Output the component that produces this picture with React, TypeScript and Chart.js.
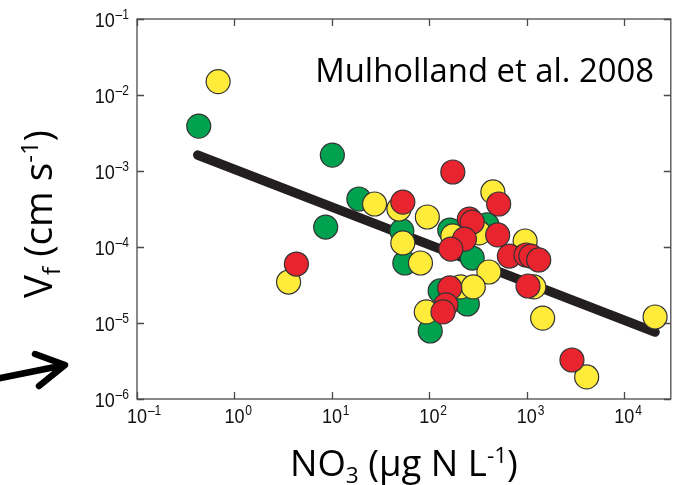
import React, { useEffect, useRef } from "react";
import { Chart, registerables } from "chart.js";

Chart.register(...registerables);

// ---- data (NO3 µg N/L, Vf cm/s) ----
const greenX = [0.43, 10.1, 18.9, 8.63, 52.2, 56, 162, 390, 275, 129, 245, 102];
const greenY = [3.9e-3, 1.62e-3, 4.28e-4, 1.83e-4, 1.63e-4, 6.16e-5, 1.67e-4, 1.95e-4, 7.16e-5, 2.64e-5, 1.78e-5, 7.85e-6];

const yellowX = [0.68, 3.59, 27.4, 48.7, 95.3, 53.4, 81, 174, 324, 448, 960, 408, 1180, 1452, 20700, 4110, 209, 282, 93];
const yellowY = [1.5e-2, 3.46e-5, 3.68e-4, 3.16e-4, 2.48e-4, 1.13e-4, 6.16e-5, 1.4e-4, 1.53e-4, 5.3e-4, 1.2e-4, 4.69e-5, 2.98e-5, 1.16e-5, 1.2e-5, 1.95e-6, 2.98e-5, 2.98e-5, 1.4e-5];

const redX = [4.32, 53.4, 174, 514, 257, 275, 229, 166, 502, 662, 982, 1100, 1324, 1028, 2904, 162, 148, 138];
const redY = [5.97e-5, 3.9e-4, 9.7e-4, 3.68e-4, 2.33e-4, 2.13e-4, 1.27e-4, 9.4e-5, 1.44e-4, 7.6e-5, 7.85e-5, 7.6e-5, 6.75e-5, 3.07e-5, 3.26e-6, 2.89e-5, 1.73e-5, 1.4e-5];

const fitX = [0.42, 20700];
const fitY = [1.62e-3, 7.6e-6];

const xTicks = [0.1, 1, 10, 100, 1000, 10000];
const xTickExps = ["–1", "0", "1", "2", "3", "4"];
const yTicks = [1e-1, 1e-2, 1e-3, 1e-4, 1e-5, 1e-6];
const yTickExps = ["–1", "–2", "–3", "–4", "–5", "–6"];

const annotationText = "Mulholland et al. 2008";

const zip = (xs: number[], ys: number[]) => xs.map((x, i) => ({ x, y: ys[i] }));

type Part = { t: string; k: "n" | "sub" | "sup" };

function richWidth(ctx: CanvasRenderingContext2D, parts: Part[], size: number, family: string) {
  let w = 0;
  for (const p of parts) {
    const s = p.k === "n" ? size : size * 0.62;
    ctx.font = `${s}px ${family}`;
    w += ctx.measureText(p.t).width;
  }
  return w;
}

function drawRich(ctx: CanvasRenderingContext2D, parts: Part[], x: number, y: number, size: number, family: string) {
  let cx = x;
  ctx.textAlign = "left";
  ctx.textBaseline = "alphabetic";
  for (const p of parts) {
    const s = p.k === "n" ? size : size * 0.62;
    ctx.font = `${s}px ${family}`;
    const dy = p.k === "sub" ? size * 0.2 : p.k === "sup" ? -size * 0.36 : 0;
    ctx.fillText(p.t, cx, y + dy);
    cx += ctx.measureText(p.t).width;
  }
}

const TITLE_FONT = '"Open Sans", "Noto Sans", sans-serif';
const TICK_FONT = '"Liberation Sans", Arial, sans-serif';
const TICK_BASE = 21;
const TICK_EXP = 14;
const TICK_SX = 0.86;

const xTitle: Part[] = [
  { t: "NO", k: "n" },
  { t: "3", k: "sub" },
  { t: " (µg N L", k: "n" },
  { t: "-1", k: "sup" },
  { t: ")", k: "n" },
];
const yTitle: Part[] = [
  { t: "V", k: "n" },
  { t: "f", k: "sub" },
  { t: " (cm s", k: "n" },
  { t: "-1", k: "sup" },
  { t: ")", k: "n" },
];

// draws "10^e" with the "10" left edge at x (in unscaled coords), baseline y
function drawPow(ctx: CanvasRenderingContext2D, exp: string, x: number, y: number) {
  ctx.save();
  ctx.translate(x, y);
  ctx.scale(TICK_SX, 1);
  ctx.textAlign = "left";
  ctx.textBaseline = "alphabetic";
  ctx.font = `${TICK_BASE}px ${TICK_FONT}`;
  ctx.fillText("10", 0, 0);
  const w = ctx.measureText("10").width;
  ctx.font = `${TICK_EXP}px ${TICK_FONT}`;
  ctx.fillText(exp, w + 1, -8);
  ctx.restore();
}
function powWidth(ctx: CanvasRenderingContext2D, exp: string) {
  ctx.font = `${TICK_BASE}px ${TICK_FONT}`;
  const w = ctx.measureText("10").width;
  ctx.font = `${TICK_EXP}px ${TICK_FONT}`;
  const e = ctx.measureText(exp).width;
  return { base: w * TICK_SX, total: (w + 1 + e) * TICK_SX };
}

const decorPlugin = {
  id: "decor",
  afterDraw(chart: any) {
    const ctx: CanvasRenderingContext2D = chart.ctx;
    const { left, right, top, bottom } = chart.chartArea;
    const xs = chart.scales.x;
    const ys = chart.scales.y;
    ctx.save();
    // frame
    ctx.strokeStyle = "#4a4a4a";
    ctx.lineWidth = 1.3;
    ctx.strokeRect(left, top, right - left, bottom - top);
    // inward ticks
    ctx.beginPath();
    for (const v of xTicks) {
      const px = Math.round(xs.getPixelForValue(v)) + 0.5;
      ctx.moveTo(px, bottom);
      ctx.lineTo(px, bottom - 7);
      ctx.moveTo(px, top);
      ctx.lineTo(px, top + 7);
    }
    for (const v of yTicks) {
      const py = Math.round(ys.getPixelForValue(v)) + 0.5;
      ctx.moveTo(left, py);
      ctx.lineTo(left + 7, py);
      ctx.moveTo(right, py);
      ctx.lineTo(right - 7, py);
    }
    ctx.stroke();

    // tick labels
    ctx.fillStyle = "#111";
    xTicks.forEach((v, i) => {
      const px = xs.getPixelForValue(v);
      const m = powWidth(ctx, xTickExps[i]);
      drawPow(ctx, xTickExps[i], px - m.base / 2, bottom + 24);
    });
    yTicks.forEach((v, i) => {
      const py = ys.getPixelForValue(v);
      const m = powWidth(ctx, yTickExps[i]);
      drawPow(ctx, yTickExps[i], left - 8 - m.total, py + 8);
    });

    ctx.fillStyle = "#000";
    // x title
    {
      const target = 228;
      const w100 = richWidth(ctx, xTitle, 100, TITLE_FONT);
      const size = (100 * target) / w100;
      const w = richWidth(ctx, xTitle, size, TITLE_FONT);
      const cx = (left + right) / 2;
      drawRich(ctx, xTitle, cx - w / 2, 476, size, TITLE_FONT);
    }
    // y title
    {
      const target = 168;
      const w100 = richWidth(ctx, yTitle, 100, TITLE_FONT);
      const size = (100 * target) / w100;
      const w = richWidth(ctx, yTitle, size, TITLE_FONT);
      ctx.save();
      ctx.translate(52, 214);
      ctx.rotate(-Math.PI / 2);
      drawRich(ctx, yTitle, -w / 2, 0, size, TITLE_FONT);
      ctx.restore();
    }
    // annotation
    {
      ctx.font = `100px ${TITLE_FONT}`;
      const w100 = ctx.measureText(annotationText).width;
      const size = (100 * 339) / w100;
      ctx.font = `${size}px ${TITLE_FONT}`;
      ctx.textAlign = "right";
      ctx.textBaseline = "alphabetic";
      ctx.fillText(annotationText, 654, 82);
    }
    // arrow
    ctx.strokeStyle = "#000";
    ctx.lineWidth = 6.5;
    ctx.lineCap = "round";
    ctx.lineJoin = "round";
    ctx.beginPath();
    ctx.moveTo(-4, 379);
    ctx.lineTo(65, 365);
    ctx.moveTo(35, 354);
    ctx.lineTo(65, 365);
    ctx.lineTo(39, 386);
    ctx.stroke();
    ctx.restore();
  },
};

export default function App() {
  const ref = useRef<HTMLCanvasElement | null>(null);
  useEffect(() => {
    if (!ref.current) return;
    const pt = (color: string, order: number, data: { x: number; y: number }[]) => ({
      type: "scatter" as const,
      data,
      order,
      pointRadius: 12,
      pointHoverRadius: 12,
      pointBackgroundColor: color,
      pointBorderColor: "#333333",
      pointBorderWidth: 1.2,
      showLine: false,
    });
    const chart = new Chart(ref.current, {
      type: "scatter",
      data: {
        datasets: [
          pt("#E8242E", 1, zip(redX, redY)),
          pt("#FFEC3A", 2, zip(yellowX, yellowY)),
          pt("#00A24F", 3, zip(greenX, greenY)),
          {
            type: "line" as const,
            data: zip(fitX, fitY),
            order: 4,
            borderColor: "#231F20",
            borderWidth: 9.5,
            borderCapStyle: "round",
            pointRadius: 0,
            showLine: true,
            fill: false,
          } as any,
        ],
      },
      plugins: [decorPlugin],
      options: {
        responsive: false,
        animation: false,
        devicePixelRatio: 1,
        layout: { padding: { top: 19, right: 2, left: 137, bottom: 86 } },
        plugins: { legend: { display: false }, tooltip: { enabled: false } },
        scales: {
          x: {
            type: "logarithmic",
            display: false,
            min: 0.1,
            max: 30000,
          },
          y: {
            type: "logarithmic",
            display: false,
            min: 1e-6,
            max: 1e-1,
          },
        },
      } as any,
    });
    return () => chart.destroy();
  }, []);
  return (
    <div style={{ position: "fixed", left: 0, top: 0, width: 684, height: 485, background: "#fff" }}>
      <canvas ref={ref} width={684} height={485} style={{ width: 684, height: 485, display: "block" }} />
    </div>
  );
}
